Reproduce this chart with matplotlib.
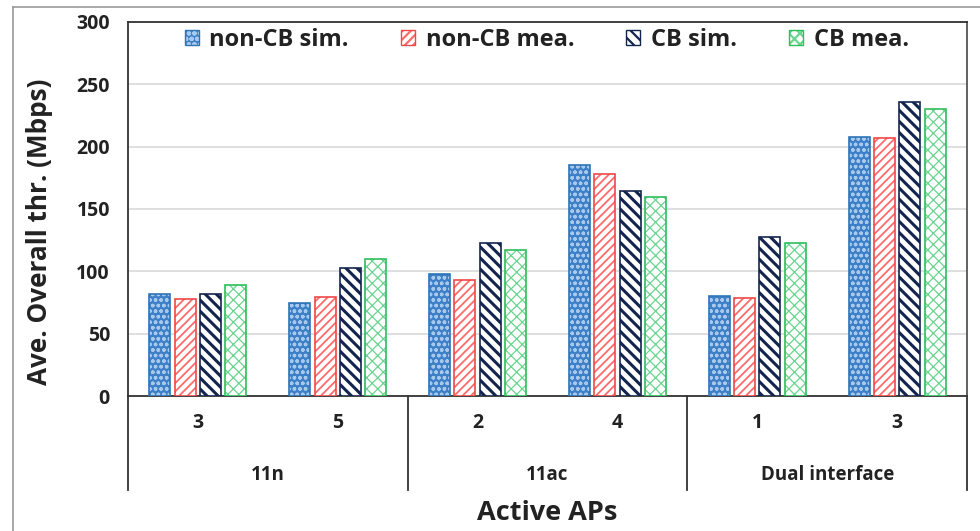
import matplotlib
matplotlib.use("Agg")
import matplotlib.pyplot as plt
from matplotlib.lines import Line2D
from matplotlib.patches import Rectangle
from matplotlib.legend_handler import HandlerTuple
import numpy as np

plt.rcParams['font.family'] = ['Open Sans', 'DejaVu Sans']
plt.rcParams['hatch.linewidth'] = 1.6

# Data
groups = ["11n", "11ac", "Dual interface"]
active_aps = ["3", "5", "2", "4", "1", "3"]
series_names = ["non-CB sim.", "non-CB mea.", "CB sim.", "CB mea."]
non_cb_sim = [81.6, 75.0, 98.1, 185.0, 80.5, 207.7]
non_cb_mea = [78.1, 79.8, 93.3, 177.9, 79.0, 206.7]
cb_sim = [81.6, 102.4, 122.7, 164.5, 127.2, 235.7]
cb_mea = [88.8, 109.6, 117.3, 160.0, 123.0, 230.0]
y_ticks = [0, 50, 100, 150, 200, 250, 300]

series = [non_cb_sim, non_cb_mea, cb_sim, cb_mea]
styles = [
    dict(face="#3d80c8", hatch_color="#a9c9ec", edge="#2e75b6", hatch="ooo", hlw=1.0),
    dict(face="white", hatch_color="#ff6b6b", edge="#f04848", hatch="////", hlw=1.3),
    dict(face="white", hatch_color="#13254f", edge="#13254f", hatch="\\\\\\", hlw=2.2),
    dict(face="white", hatch_color="#6ad590", edge="#2ebf5c", hatch="xxx", hlw=0.9),
]
TXT = "#222222"

fig = plt.figure(figsize=(9.8, 5.31), dpi=100)
ax = fig.add_axes([128 / 980, 135 / 531, 839 / 980, 374 / 531])

x = np.arange(len(active_aps)) + 0.5
pitch = 0.181
width = 0.15
handles = []
for i, (vals, st) in enumerate(zip(series, styles)):
    pos = x + (i - 1.5) * pitch
    bars = ax.bar(pos, vals, width=width, color=st["face"], edgecolor=st["hatch_color"],
                  hatch=st["hatch"], linewidth=0, zorder=3)
    for b in bars:
        if hasattr(b, "set_hatch_linewidth"):
            b.set_hatch_linewidth(st["hlw"])
    ax.bar(pos, vals, width=width, fill=False, edgecolor=st["edge"], linewidth=1.2, zorder=4)
    h = Rectangle((0, 0), 1, 1, facecolor=st["face"], edgecolor=st["hatch_color"],
                  hatch=st["hatch"], linewidth=0)
    if hasattr(h, "set_hatch_linewidth"):
        h.set_hatch_linewidth(st["hlw"])
    o = Rectangle((0, 0), 1, 1, fill=False, edgecolor=st["edge"], linewidth=1.0)
    handles.append((h, o))

ax.set_xlim(0, 6)
ax.set_ylim(0, 300)
ax.set_yticks(y_ticks)
ax.set_yticklabels([str(t) for t in y_ticks], fontsize=14, fontweight="bold", color=TXT)
ax.tick_params(axis="y", length=0, pad=13)
ax.yaxis.grid(True, color="#d9d9d9", linewidth=1.2, zorder=0)
ax.set_axisbelow(True)

ax.set_xticks(x)
ax.set_xticklabels(active_aps, fontsize=14, fontweight="bold", color=TXT)
ax.tick_params(axis="x", length=0, pad=12)

for s in ["top", "bottom", "left", "right"]:
    ax.spines[s].set_color("#333333")
    ax.spines[s].set_linewidth(1.3)
ax.spines["right"].set_color("#555555")

# group separators and group labels below the axis
depth = -(490 - 396) / 374
for xs in [0, 2, 4, 6]:
    ax.add_line(Line2D([xs, xs], [0, depth], color="#333333", linewidth=1.3,
                       transform=ax.get_xaxis_transform(), clip_on=False))
for gi, g in enumerate(groups):
    ax.text(gi * 2 + 1, -(475 - 396) / 374, g, transform=ax.get_xaxis_transform(),
            ha="center", va="center", fontsize=13.5, fontweight="bold", color=TXT)

ax.text(0.5, -(513 - 396) / 374, "Active APs", transform=ax.transAxes,
        ha="center", va="center", fontsize=19.5, fontweight="bold", color=TXT)
fig.text(40 / 980, 1 - 232 / 531, "Ave. Overall thr. (Mbps)", rotation=90,
         ha="center", va="center", fontsize=18.8, fontweight="bold", color=TXT)

leg = ax.legend(handles, series_names, ncol=4, loc="center",
                bbox_to_anchor=(0.499, (396 - 40) / 374), frameon=False,
                prop=dict(size=17, weight="bold"), handlelength=0.6, handleheight=0.6,
                handletextpad=0.45, columnspacing=2.2,
                handler_map={tuple: HandlerTuple(ndivide=1, pad=0)})
for t in leg.get_texts():
    t.set_color(TXT)

# outer figure frame
fig.add_artist(Line2D([13 / 980, 13 / 980], [0, 1 - 7 / 531], color="#999999",
                      linewidth=1.2, transform=fig.transFigure))
fig.add_artist(Line2D([13 / 980, 1], [1 - 7 / 531, 1 - 7 / 531], color="#999999",
                      linewidth=1.2, transform=fig.transFigure))

fig.savefig("out.png", dpi=100)
